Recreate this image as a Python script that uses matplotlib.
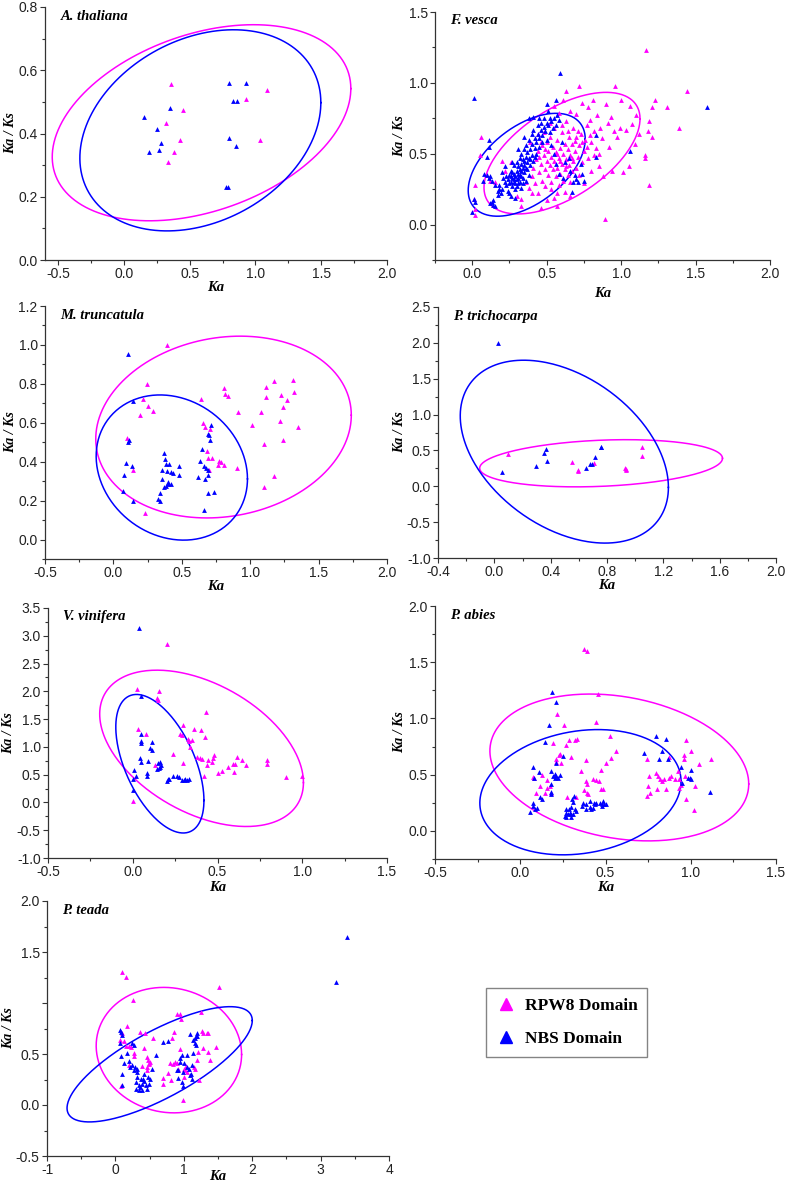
import numpy as np
import matplotlib
matplotlib.use('Agg')
import matplotlib.pyplot as plt
from matplotlib.ticker import MultipleLocator
from matplotlib.lines import Line2D

# ---- cores
MAG = '#FF00FF'
BLU = '#0000FF'

# ---- A. thaliana
at_rpw8_x = [0.358, 0.447, 0.317, 0.426, 0.383, 0.332, 0.929, 1.086, 1.036]
at_rpw8_y = [0.556, 0.474, 0.432, 0.378, 0.340, 0.311, 0.508, 0.537, 0.378]
at_nbs_x = [0.152, 0.350, 0.249, 0.282, 0.193, 0.266, 0.802, 0.929, 0.832, 0.858, 0.802, 0.850, 0.777, 0.789]
at_nbs_y = [0.453, 0.482, 0.413, 0.371, 0.340, 0.349, 0.561, 0.559, 0.503, 0.503, 0.386, 0.362, 0.232, 0.232]

# ---- F. vesca
fv_rpw8 = [(0.02,0.28),(0.06,0.62),(0.05,0.49),(0.02,0.11),(0.02,0.07),(0.01,0.18),(0.12,0.31),(0.15,0.30),
           (0.20,0.45),(0.22,0.38),(0.26,0.44),(0.30,0.20),(0.33,0.18),(0.33,0.13),(0.36,0.30),(0.38,0.26),
           (0.40,0.34),(0.41,0.40),(0.42,0.29),(0.43,0.46),(0.44,0.52),(0.44,0.22),(0.45,0.37),(0.46,0.12),
           (0.46,0.43),(0.47,0.56),(0.47,0.31),(0.48,0.49),(0.48,0.65),(0.49,0.39),(0.49,0.27),(0.50,0.45),
           (0.50,0.58),(0.51,0.35),(0.51,0.52),(0.52,0.42),(0.52,0.62),(0.53,0.30),(0.53,0.48),(0.54,0.39),
           (0.54,0.55),(0.55,0.45),(0.55,0.68),(0.56,0.34),(0.56,0.51),(0.57,0.40),(0.57,0.60),(0.58,0.47),
           (0.58,0.28),(0.59,0.54),(0.59,0.36),(0.60,0.43),(0.60,0.65),(0.61,0.50),(0.61,0.31),(0.62,0.39),
           (0.62,0.57),(0.63,0.46),(0.63,0.73),(0.64,0.35),(0.64,0.53),(0.65,0.42),(0.65,0.62),(0.66,0.49),
           (0.66,0.30),(0.67,0.57),(0.67,0.38),(0.68,0.45),(0.68,0.68),(0.69,0.52),(0.70,0.40),(0.70,0.62),
           (0.71,0.48),(0.72,0.56),(0.72,0.35),(0.73,0.64),(0.74,0.44),(0.75,0.52),(0.76,0.60),(0.77,0.70),
           (0.78,0.47),(0.79,0.74),(0.80,0.58),(0.81,0.88),(0.82,0.66),(0.83,0.54),(0.84,0.77),(0.85,0.41),
           (0.86,0.68),(0.87,0.61),(0.88,0.34),(0.89,0.04),(0.90,0.85),(0.91,0.72),(0.92,0.55),(0.93,0.76),
           (0.94,0.38),(0.95,0.66),(0.96,0.98),(0.97,0.62),(0.99,0.68),(1.00,0.88),(1.01,0.37),(1.03,0.67),
           (1.05,0.41),(1.06,0.84),(1.07,0.71),(1.09,0.57),(1.10,0.77),(1.12,0.64),(1.16,0.49),(1.16,0.47),
           (1.17,1.23),(1.18,0.66),(1.19,0.28),(1.21,0.62),(1.19,0.73),(1.21,0.83),(1.23,0.88),(1.31,0.83),
           (1.39,0.68),(1.44,0.94),(0.72,0.98),(0.63,0.94),(0.55,0.84),(0.52,0.72),(0.58,0.79),(0.66,0.80),
           (0.70,0.78),(0.74,0.86),(0.78,0.83),(0.61,0.88),(0.66,0.20),(0.62,0.23),(0.57,0.22),(0.50,0.17),
           (0.39,0.58),(0.44,0.64),(0.46,0.58),(0.75,0.29),(0.80,0.38),(0.85,0.50),(0.57,0.13),(0.40,0.22),
           (0.53,0.25),(0.55,0.19),(0.59,0.45),(0.63,0.41),(0.67,0.47),(0.69,0.59),(0.71,0.66),(0.74,0.58),
           (0.77,0.55),(0.79,0.63),(0.82,0.49),(0.60,0.70),(0.64,0.66),(0.57,0.50),(0.49,0.53),(0.45,0.48)]
fv_nbs = [(0.01,0.89),(0.00,0.09),(0.01,0.18),(0.02,0.16),(0.11,0.60),(0.11,0.55),(0.10,0.48),(0.10,0.35),
          (0.12,0.34),(0.13,0.31),(0.11,0.33),(0.13,0.16),(0.14,0.14),(0.15,0.13),(0.12,0.15),(0.14,0.17),
          (0.17,0.24),(0.18,0.25),(0.19,0.22),(0.17,0.21),(0.18,0.28),(0.20,0.25),(0.20,0.37),(0.21,0.33),
          (0.22,0.30),(0.23,0.28),(0.24,0.24),(0.25,0.22),(0.24,0.32),(0.25,0.35),(0.26,0.38),(0.26,0.30),
          (0.27,0.27),(0.27,0.33),(0.28,0.36),(0.28,0.42),(0.28,0.30),(0.29,0.25),(0.29,0.34),(0.30,0.38),
          (0.30,0.44),(0.30,0.32),(0.31,0.29),(0.31,0.36),(0.31,0.41),(0.32,0.47),(0.32,0.35),(0.32,0.30),
          (0.33,0.38),(0.33,0.43),(0.33,0.50),(0.34,0.33),(0.34,0.40),(0.34,0.46),(0.35,0.53),(0.35,0.37),
          (0.35,0.42),(0.36,0.48),(0.36,0.56),(0.36,0.31),(0.37,0.44),(0.37,0.51),(0.37,0.39),(0.38,0.60),
          (0.38,0.47),(0.38,0.35),(0.39,0.53),(0.39,0.42),(0.40,0.64),(0.40,0.57),(0.40,0.49),(0.41,0.45),
          (0.41,0.67),(0.42,0.61),(0.42,0.54),(0.43,0.58),(0.43,0.50),(0.44,0.70),(0.44,0.64),(0.45,0.55),
          (0.45,0.61),(0.46,0.67),(0.46,0.72),(0.47,0.63),(0.47,0.58),(0.48,0.69),(0.48,0.75),(0.49,0.66),
          (0.50,0.72),(0.50,0.60),(0.51,0.70),(0.52,0.75),(0.52,0.65),(0.53,0.73),(0.54,0.68),(0.55,0.75),
          (0.56,0.70),(0.57,0.77),(0.58,0.74),(0.38,0.75),(0.41,0.76),(0.50,0.85),(0.56,0.88),(0.59,1.07),
          (0.51,0.80),(0.45,0.75),(0.60,0.58),(0.62,0.44),(0.65,0.47),(0.66,0.38),(0.68,0.30),(0.70,0.32),
          (0.71,0.30),(0.69,0.35),(0.67,0.23),(0.74,0.36),(0.75,0.31),(0.73,0.43),(0.83,0.63),(0.83,0.48),
          (1.06,0.52),(1.58,0.83),(0.26,0.20),(0.29,0.19),(0.33,0.26),(0.22,0.41),(0.15,0.28),(0.08,0.36),
          (0.07,0.31),(0.53,0.56),(0.55,0.50),(0.56,0.43),(0.58,0.36),(0.61,0.33),(0.35,0.62),(0.31,0.53),
          (0.27,0.44),(0.26,0.34),(0.29,0.29),(0.30,0.27),(0.31,0.33),(0.32,0.39),(0.33,0.34),(0.34,0.29),
          (0.35,0.45),(0.36,0.40),(0.28,0.32),(0.27,0.37),(0.25,0.29),(0.23,0.34),(0.39,0.46),(0.42,0.48)]

# ---- M. truncatula
mt_rpw8 = [(0.390,1.002),(0.244,0.797),(0.220,0.722),(0.251,0.688),(0.293,0.662),(0.195,0.638),(0.102,0.524),
           (0.146,0.355),(0.232,0.137),(0.639,0.722),(0.654,0.597),(0.666,0.580),(0.707,0.567),(0.683,0.457),
           (0.690,0.418),(0.720,0.418),(0.702,0.358),(0.771,0.401),(0.785,0.396),(0.761,0.381),(0.810,0.381),
           (0.907,0.370),(0.810,0.780),(0.817,0.748),(0.841,0.737),(0.910,0.657),(1.012,0.591),(1.078,0.654),
           (1.115,0.785),(1.115,0.731),(1.176,0.816),(1.224,0.743),(1.239,0.681),(1.268,0.717),(1.312,0.819),
           (1.322,0.760),(1.220,0.609),(1.239,0.512),(1.346,0.580),(1.102,0.490),(1.176,0.328),(1.098,0.268)]
mt_nbs = [(0.105,0.953),(0.141,0.712),(0.110,0.500),(0.117,0.509),(0.093,0.393),(0.076,0.333),(0.068,0.248),
          (0.141,0.198),(0.134,0.379),(0.373,0.444),(0.378,0.413),(0.354,0.357),(0.385,0.389),(0.390,0.350),
          (0.410,0.389),(0.422,0.345),(0.434,0.341),(0.354,0.311),(0.402,0.294),(0.385,0.277),(0.373,0.270),
          (0.398,0.285),(0.420,0.287),(0.341,0.239),(0.324,0.210),(0.337,0.200),(0.476,0.379),(0.476,0.333),
          (0.646,0.466),(0.634,0.401),(0.615,0.319),(0.663,0.376),(0.666,0.312),(0.678,0.367),(0.695,0.358),
          (0.712,0.589),(0.702,0.538),(0.707,0.512),(0.695,0.541),(0.690,0.333),(0.663,0.150),(0.688,0.239),
          (0.732,0.244)]

# ---- P. trichocarpa
pt_rpw8 = [(0.098,0.451),(0.549,0.335),(0.594,0.228),(0.596,0.214),(0.707,0.330),(0.926,0.261),(0.933,0.242),
           (0.937,0.228),(1.051,0.553),(1.051,0.428)]
pt_nbs = [(0.027,2.00),(0.055,0.205),(0.297,0.284),(0.352,0.469),(0.364,0.520),(0.376,0.358),(0.653,0.251),
          (0.677,0.312),(0.691,0.312),(0.715,0.414),(0.755,0.553),(0.755,0.544)]

# ---- V. vinifera
vv_rpw8 = [(0.026,2.04),(0.156,2.00),(0.205,2.85),(0.032,1.33),(0.077,1.23),(0.146,1.88),(0.150,1.84),
           (0.239,0.866),(0.134,0.67),(0.002,0.017),(0.298,1.387),(0.278,1.226),(0.292,1.214),(0.363,1.322),
           (0.402,1.304),(0.430,1.627),(0.426,1.172),(0.328,1.136),(0.334,1.11),(0.337,1.0),(0.347,1.124),
           (0.298,0.705),(0.381,0.825),(0.396,0.80),(0.406,0.79),(0.436,0.674),(0.446,0.765),(0.420,0.478),
           (0.465,0.723),(0.475,0.807),(0.478,0.855),(0.505,0.526),(0.525,0.574),(0.564,0.646),(0.594,0.687),
           (0.600,0.544),(0.605,0.69),(0.617,0.825),(0.647,0.765),(0.668,0.675),(0.790,0.765),(0.790,0.687),
           (0.905,0.466),(0.998,0.478)]
vv_nbs = [(0.036,3.147),(0.048,1.92),(0.046,1.232),(0.046,1.106),(0.046,1.064),(0.111,1.082),(0.101,0.975),
          (0.115,0.945),(0.042,0.807),(0.046,0.723),(0.091,0.753),(0.087,0.526),(0.087,0.484),(0.008,0.586),
          (0.022,0.484),(0.002,0.424),(0.002,0.215),(0.150,0.717),(0.160,0.73),(0.165,0.68),(0.158,0.64),
          (0.152,0.62),(0.146,0.60),(0.200,0.394),(0.209,0.418),(0.24,0.47),(0.27,0.46),(0.29,0.41),
          (0.31,0.42),(0.33,0.42),(0.32,0.40),(0.30,0.40),(0.26,0.47),(0.215,0.43)]

# ---- P. abies
pa_rpw8 = [(0.372,1.616),(0.394,1.601),(0.456,1.217),(0.218,1.043),(0.446,0.966),(0.257,0.945),(0.193,0.783),
           (0.228,0.679),(0.208,0.641),(0.208,0.612),(0.271,0.768),(0.286,0.812),(0.320,0.812),(0.335,0.821),
           (0.296,0.659),(0.524,0.842),(0.563,0.709),(0.534,0.650),(0.505,0.606),(0.384,0.629),(0.359,0.532),
           (0.384,0.443),(0.392,0.414),(0.372,0.363),(0.390,0.334),(0.400,0.325),(0.429,0.458),(0.446,0.45),
           (0.462,0.443),(0.476,0.538),(0.476,0.375),(0.486,0.375),(0.072,0.479),(0.078,0.472),(0.091,0.340),
           (0.115,0.399),(0.130,0.493),(0.154,0.384),(0.158,0.449),(0.177,0.399),(0.144,0.340),(0.183,0.340),
           (0.275,0.304),(0.329,0.304),(0.241,0.606),(0.232,0.688),(0.743,0.635),(0.755,0.487),(0.749,0.399),
           (0.743,0.310),(0.759,0.340),(0.798,0.517),(0.808,0.49),(0.817,0.464),(0.832,0.44),(0.846,0.464),
           (0.852,0.375),(0.801,0.375),(0.872,0.659),(0.885,0.487),(0.905,0.464),(0.930,0.458),(0.924,0.532),
           (0.958,0.641),(0.963,0.679),(0.973,0.812),(0.969,0.487),(0.934,0.384),(0.973,0.287),(1.002,0.709),
           (1.022,0.399),(1.018,0.183),(1.051,0.597),(1.116,0.635),(0.944,0.405),(0.875,0.47)]
pa_nbs = [(0.189,1.232),(0.208,1.143),(0.169,0.939),(0.144,0.789),(0.072,0.570),(0.111,0.526),(0.080,0.473),
          (0.056,0.171),(0.076,0.222),(0.086,0.192),(0.100,0.207),(0.076,0.251),(0.115,0.304),(0.130,0.286),
          (0.183,0.414),(0.183,0.349),(0.183,0.325),(0.183,0.532),(0.193,0.487),(0.203,0.467),(0.212,0.487),
          (0.232,0.493),(0.222,0.467),(0.251,0.665),(0.212,0.606),(0.203,0.51),
          (0.271,0.192),(0.267,0.162),(0.281,0.148),(0.290,0.162),(0.300,0.127),(0.310,0.148),(0.286,0.192),
          (0.300,0.213),(0.310,0.257),(0.316,0.310),(0.306,0.281),(0.320,0.192),(0.261,0.133),(0.271,0.127),
          (0.296,0.148),(0.325,0.177),
          (0.368,0.245),(0.384,0.236),(0.407,0.213),(0.417,0.192),(0.427,0.207),(0.437,0.236),(0.407,0.266),
          (0.388,0.192),(0.447,0.251),(0.466,0.245),(0.480,0.236),(0.482,0.222),(0.491,0.236),(0.505,0.236),
          (0.485,0.269),(0.431,0.251),(0.364,0.222),
          (0.723,0.694),(0.798,0.848),(0.852,0.818),(0.833,0.709),(0.866,0.641),(0.813,0.641),(0.944,0.570),
          (0.950,0.422),(0.983,0.467),(0.993,0.467),(0.999,0.538),(1.110,0.346),(1.002,0.458)]

# ---- P. teada
pte_rpw8 = [(0.094,1.306),(0.153,1.257),(0.255,1.028),(1.519,1.153),(1.252,0.914),(0.897,0.897),(0.946,0.888),
            (0.960,0.848),(0.167,0.773),(0.094,0.701),(0.070,0.636),(0.119,0.629),(0.158,0.580),(0.192,0.580),
            (0.231,0.570),(0.265,0.505),(0.265,0.482),(0.362,0.711),(0.435,0.701),(0.547,0.658),(0.425,0.554),
            (0.459,0.472),(0.474,0.440),(0.484,0.413),(0.498,0.400),(0.459,0.374),(0.386,0.381),(0.459,0.341),
            (0.508,0.423),(0.206,0.390),(0.085,0.184),(0.863,0.720),(0.824,0.652),(0.946,0.547),(0.897,0.413),
            (0.873,0.423),(0.848,0.400),(0.800,0.409),(0.766,0.318),(0.809,0.243),(0.702,0.266),(0.702,0.210),
            (0.921,0.357),(1.009,0.357),(1.033,0.380),(1.043,0.325),(1.009,0.276),(1.164,0.357),(1.189,0.440),
            (1.213,0.521),(1.262,0.724),(1.286,0.708),(1.335,0.701),(1.359,0.701),(1.286,0.554),(1.349,0.521),
            (1.383,0.440),(1.471,0.570),(1.228,0.243),(0.984,0.046),(1.155,0.374),(1.019,0.341)]
pte_nbs = [(3.392,1.643),(3.231,1.208),(0.060,0.734),(0.080,0.717),(0.094,0.685),(0.070,0.603),(0.240,0.603),
           (0.265,0.587),(0.080,0.478),(0.167,0.505),(0.119,0.413),(0.094,0.302),(0.094,0.194),(0.216,0.374),
           (0.265,0.341),(0.289,0.374),(0.313,0.325),(0.323,0.276),(0.304,0.226),(0.338,0.194),(0.362,0.177),
           (0.386,0.210),(0.401,0.259),(0.420,0.308),(0.411,0.233),(0.459,0.161),(0.484,0.210),(0.474,0.276),
           (0.508,0.259),(0.532,0.357),(0.595,0.495),(0.304,0.161),(0.352,0.151),(0.386,0.145),(0.445,0.194),
           (0.372,0.253),(0.323,0.351),(0.240,0.394),(0.192,0.433),(0.693,0.619),(0.775,0.629),(0.946,0.462),
           (0.969,0.488),(0.946,0.423),(0.921,0.341),(0.921,0.269),(0.969,0.227),(0.994,0.184),(0.897,0.341),
           (0.984,0.325),(1.004,0.407),(1.043,0.374),(1.053,0.488),(1.082,0.357),(1.101,0.308),(1.116,0.259),
           (1.091,0.292),(1.116,0.390),(1.140,0.510),(1.140,0.636),(1.164,0.652),(1.179,0.587),(1.189,0.701),
           (1.164,0.603),(1.091,0.694),(1.179,0.675),(1.198,0.675)]

# ---- elipses: (cx, cy, semi-extensao x, semi-extensao y, fase em graus)
at_ell_rpw8 = [0.59, 0.434, 1.135, 0.310, 69.6]
at_ell_nbs = [0.581, 0.41, 0.916, 0.318, 74.0]
fv_ell_rpw8 = [0.603, 0.504, 0.524, 0.429, 55.6]
fv_ell_nbs = [0.366, 0.422, 0.393, 0.363, 60.0]
mt_ell_rpw8 = [0.805, 0.578, 0.934, 0.467, 82.5]
mt_ell_nbs = [0.427, 0.370, 0.553, 0.373, 99.0]
pt_ell_rpw8 = [0.758, 0.321, 0.862, 0.329, 78.0]
pt_ell_nbs = [0.497, 0.483, 0.739, 1.275, 113.0]
vv_ell_rpw8 = [0.406, 0.974, 0.601, 1.407, 116.0]
vv_ell_nbs = [0.160, 0.697, 0.260, 1.247, 122.0]
pa_ell_rpw8 = [0.581, 0.564, 0.759, 0.653, 103.0]
pa_ell_nbs = [0.353, 0.344, 0.590, 0.557, 80.0]
pte_ell_rpw8 = [0.782, 0.538, 1.063, 0.615, 94.0]
pte_ell_nbs = [0.647, 0.399, 1.354, 0.565, 40.6]


def ellipse_xy(p):
    cx, cy, rx, ry, d = p
    t = np.linspace(0, 2 * np.pi, 300)
    return cx + rx * np.cos(t), cy + ry * np.cos(t - np.radians(d))


def split(pts):
    return [p[0] for p in pts], [p[1] for p in pts]


# painel: nome, pontos, elipses, pixels (l, t, r, b), limites, ticks, formato x, pos. rotulos
panels = [
    ('A. thaliana', (at_rpw8_x, at_rpw8_y), (at_nbs_x, at_nbs_y), at_ell_rpw8, at_ell_nbs,
     (45, 7, 387, 260), (-0.6, 2.0), (0.0, 0.8), (0.5, 0.25), (0.2, 0.1), '%.1f', 17, 21),
    ('F. vesca', split(fv_rpw8), split(fv_nbs), fv_ell_rpw8, fv_ell_nbs,
     (435, 12, 770, 260), (-0.25, 2.0), (-0.25, 1.5), (0.5, 0.25), (0.5, 0.25), '%.1f', 406, 27),
    ('M. truncatula', split(mt_rpw8), split(mt_nbs), mt_ell_rpw8, mt_ell_nbs,
     (45, 306, 387, 559), (-0.5, 2.0), (-0.1, 1.2), (0.5, 0.25), (0.2, 0.1), '%.1f', 17, 21),
    ('P. trichocarpa', split(pt_rpw8), split(pt_nbs), pt_ell_rpw8, pt_ell_nbs,
     (438, 307, 776, 558), (-0.4, 2.0), (-1.0, 2.5), (0.4, 0.2), (0.5, 0.25), '%.1f', 406, 21),
    ('V. vinifera', split(vv_rpw8), split(vv_nbs), vv_ell_rpw8, vv_ell_nbs,
     (48, 608, 387, 858), (-0.5, 1.5), (-1.0, 3.5), (0.5, 0.25), (0.5, 0.25), '%.1f', 15, 23),
    ('P. abies', split(pa_rpw8), split(pa_nbs), pa_ell_rpw8, pa_ell_nbs,
     (435, 606, 776, 859), (-0.5, 1.5), (-0.25, 2.0), (0.5, 0.25), (0.5, 0.25), '%.1f', 406, 22),
    ('P. teada', split(pte_rpw8), split(pte_nbs), pte_ell_rpw8, pte_ell_nbs,
     (47, 901, 389, 1156), (-1, 4), (-0.5, 2.0), (1, 0.5), (0.5, 0.25), '%d', 15, 14),
]

W, H = 787, 1182
fig = plt.figure(figsize=(W / 100, H / 100), dpi=100)

SANS = 'Liberation Sans'
SERIF = 'Liberation Serif'

for (name, rp, nb, e_r, e_n, px, xl, yl, xt, yt, xfmt, ylab_px, xlab_off) in panels:
    l, t, r, b = px
    ax = fig.add_axes([l / W, 1 - b / H, (r - l) / W, (b - t) / H])

    ax.scatter(rp[0], rp[1], marker='^', s=12, color=MAG, linewidths=0, zorder=3)
    ax.scatter(nb[0], nb[1], marker='^', s=12, color=BLU, linewidths=0, zorder=3)
    ex, ey = ellipse_xy(e_r)
    ax.plot(ex, ey, color=MAG, lw=1.1, zorder=2)
    ex, ey = ellipse_xy(e_n)
    ax.plot(ex, ey, color=BLU, lw=1.1, zorder=2)

    ax.set_xlim(xl)
    ax.set_ylim(yl)
    ax.spines['top'].set_visible(False)
    ax.spines['right'].set_visible(False)
    for s in ['left', 'bottom']:
        ax.spines[s].set_color('#333333')
        ax.spines[s].set_linewidth(0.9)

    # ticks principais a partir do primeiro multiplo
    x0 = np.ceil(xl[0] / xt[0] - 1e-9) * xt[0]
    xs = np.round(np.arange(x0, xl[1] + 1e-9, xt[0]), 6) + 0.0
    ax.set_xticks(xs)
    ax.set_xticklabels([xfmt % v for v in xs])
    y0 = np.ceil(yl[0] / yt[0] - 1e-9) * yt[0]
    ys = np.round(np.arange(y0, yl[1] + 1e-9, yt[0]), 6) + 0.0
    ax.set_yticks(ys)
    ylabels = ['%.1f' % v for v in ys]
    if name == 'P. teada':
        ylabels = ['' if abs(v - 1.0) < 1e-9 else lab for v, lab in zip(ys, ylabels)]
    ax.set_yticklabels(ylabels)
    ax.xaxis.set_minor_locator(MultipleLocator(xt[1]))
    ax.yaxis.set_minor_locator(MultipleLocator(yt[1]))
    ax.tick_params(which='major', direction='out', length=3.5, width=0.8, color='#333333',
                   labelsize=10, pad=1.8, labelcolor='#222222')
    ax.tick_params(which='minor', direction='out', length=2.2, width=0.8, color='#333333')
    for lab in ax.get_xticklabels() + ax.get_yticklabels():
        lab.set_fontfamily(SANS)

    ax.set_xlabel('Ka', family=SERIF, style='italic', weight='bold', fontsize=10.5)
    ax.xaxis.set_label_coords(0.5, -xlab_off / (b - t))
    ax.set_ylabel('Ka / Ks', family=SERIF, style='italic', weight='bold', fontsize=10)
    ax.yaxis.set_label_coords((ylab_px - l) / (r - l), 0.5)
    ax.text(0.045, 0.99, name, transform=ax.transAxes, ha='left', va='top',
            family=SERIF, style='italic', weight='bold', fontsize=10.5)

handles = [Line2D([], [], marker='^', ls='none', color=MAG, markersize=8),
           Line2D([], [], marker='^', ls='none', color=BLU, markersize=8)]
leg = fig.legend(handles, ['RPW8 Domain', 'NBS Domain'], loc='upper left',
                 bbox_to_anchor=(486 / W, 1 - 988 / H), borderaxespad=0, frameon=True,
                 fancybox=False, edgecolor='#666666', labelspacing=1.0, handletextpad=0.5,
                 borderpad=0.55, handlelength=1.2,
                 prop={'family': SERIF, 'weight': 'bold', 'size': 12.5})
leg.get_frame().set_linewidth(1.0)

fig.savefig('out.png', dpi=100)
